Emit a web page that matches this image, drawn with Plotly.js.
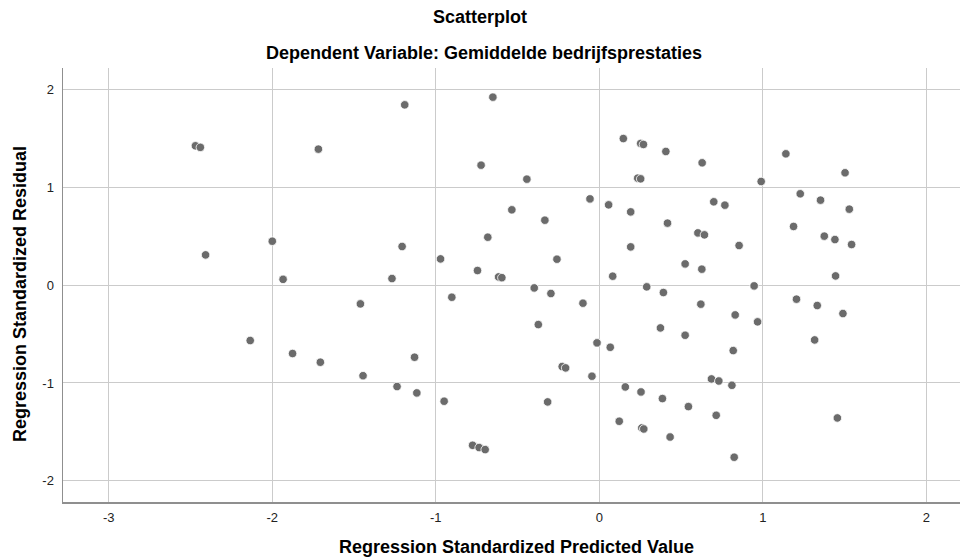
<!DOCTYPE html>
<html>
<head>
<meta charset="utf-8">
<script src="https://cdn.plot.ly/plotly-3.0.1.min.js"></script>
<style>html,body{margin:0;padding:0;background:#fff;}#chart{width:960px;height:560px;}</style>
</head>
<body>
<div id="chart"></div>
<script>
const predicted = [
  -2.47, -2.44, -1.718, -2.0, -2.408, -1.934, -1.190, -0.651, 0.147, 0.253,
  0.270, -0.723, -0.443, 0.235, 0.253, -0.057, 0.057, 0.192, -0.535, -0.333,
  -1.206, -0.682, -0.971, -0.259, 0.192, -1.268, -0.745, -0.616, -0.596, 0.082,
  0.407, 0.629, 1.141, 1.503, 0.990, 1.229, 1.353, 1.529, 0.417, 0.700,
  0.768, 0.603, 0.643, 0.855, 1.188, 1.376, 1.441, 1.543, 0.525, 0.627,
  1.445, 0.290, 0.392, 0.621, 0.947, 1.206, 1.333, 1.490, 0.831, 0.968,
  1.317, 0.374, 0.525, 0.819, 0.159, 0.255, 0.386, 0.545, 0.715, 0.686,
  0.731, 0.811, 0.260, 0.272, 0.433, 0.825, 1.456, -1.461, -0.902, -0.398,
  -0.296, -0.100, -0.373, -0.014, 0.067, -1.130, -1.445, -1.237, -1.116, -0.949,
  -0.316, -0.227, -0.206, -0.045, 0.122, -0.775, -0.735, -0.698, -2.135, -1.876,
  -1.706
];
const residual = [
  1.426, 1.41, 1.392, 0.45, 0.31, 0.06, 1.845, 1.924, 1.50, 1.45,
  1.44, 1.228, 1.085, 1.095, 1.088, 0.883, 0.822, 0.750, 0.771, 0.665,
  0.396, 0.491, 0.269, 0.266, 0.392, 0.068, 0.15, 0.085, 0.077, 0.092,
  1.368, 1.252, 1.344, 1.150, 1.061, 0.935, 0.870, 0.778, 0.635, 0.853,
  0.819, 0.535, 0.515, 0.406, 0.601, 0.502, 0.467, 0.416, 0.218, 0.164,
  0.095, -0.017, -0.075, -0.194, -0.007, -0.143, -0.208, -0.290, -0.304, -0.375,
  -0.560, -0.437, -0.512, -0.669, -1.041, -1.092, -1.160, -1.242, -1.331, -0.959,
  -0.980, -1.024, -1.460, -1.471, -1.553, -1.760, -1.358, -0.191, -0.123, -0.028,
  -0.085, -0.184, -0.403, -0.590, -0.635, -0.737, -0.926, -1.037, -1.102, -1.187,
  -1.194, -0.832, -0.846, -0.931, -1.392, -1.638, -1.661, -1.682, -0.566, -0.699,
  -0.788
];
const xTicks = [-3, -2, -1, 0, 1, 2];
const yTicks = [-2, -1, 0, 1, 2];

const FONT = 'Liberation Sans, Arial, sans-serif';

const trace = {
  type: 'scatter',
  mode: 'markers',
  x: predicted,
  y: residual,
  marker: {color: '#6b6b6b', size: 8.5, line: {color: '#ffffff', width: 0.8}},
  hoverinfo: 'x+y'
};

const layout = {
  width: 960, height: 560,
  margin: {l: 63, r: 0, t: 68, b: 58},
  paper_bgcolor: '#ffffff', plot_bgcolor: '#ffffff',
  showlegend: false,
  font: {family: FONT, color: '#222222', size: 13},
  title: {
    text: '<b>Scatterplot</b>',
    font: {family: FONT, size: 18, color: '#000000'},
    x: 0.5, xref: 'container', xanchor: 'center',
    y: 1 - 17/560, yref: 'container', yanchor: 'middle'
  },
  xaxis: {
    range: [-3.28, 2.206],
    tickvals: xTicks, ticktext: xTicks.map(String),
    showgrid: true, gridcolor: '#cbcbcb', gridwidth: 1,
    zeroline: false,
    showline: true, linecolor: '#8f8f8f', linewidth: 1.5,
    ticks: 'outside', ticklen: 3, tickcolor: 'rgba(0,0,0,0)',
    tickfont: {family: FONT, size: 13, color: '#222222'}
  },
  yaxis: {
    range: [-2.218, 2.222],
    tickvals: yTicks, ticktext: yTicks.map(String),
    showgrid: true, gridcolor: '#cbcbcb', gridwidth: 1,
    zeroline: false,
    showline: true, linecolor: '#8f8f8f', linewidth: 1.5,
    ticks: 'outside', ticklen: 5, tickcolor: 'rgba(0,0,0,0)',
    tickfont: {family: FONT, size: 13, color: '#222222'}
  },
  annotations: [
    {text: '<b>Dependent Variable: Gemiddelde bedrijfsprestaties</b>',
     xref: 'paper', yref: 'paper', x: (484-63)/897, y: (502-53)/434,
     xanchor: 'center', yanchor: 'middle', showarrow: false,
     font: {family: FONT, size: 18, color: '#000000'}},
    {text: '<b>Regression Standardized Predicted Value</b>',
     xref: 'paper', yref: 'paper', x: (516-63)/897, y: (502-547)/434,
     xanchor: 'center', yanchor: 'middle', showarrow: false,
     font: {family: FONT, size: 18, color: '#000000'}},
    {text: '<b>Regression Standardized Residual</b>',
     xref: 'paper', yref: 'paper', x: (20-63)/897, y: (502-294)/434,
     xanchor: 'center', yanchor: 'middle', showarrow: false, textangle: -90,
     font: {family: FONT, size: 18, color: '#000000'}}
  ]
};

Plotly.newPlot('chart', [trace], layout, {displayModeBar: false, staticPlot: true});
</script>
</body>
</html>
